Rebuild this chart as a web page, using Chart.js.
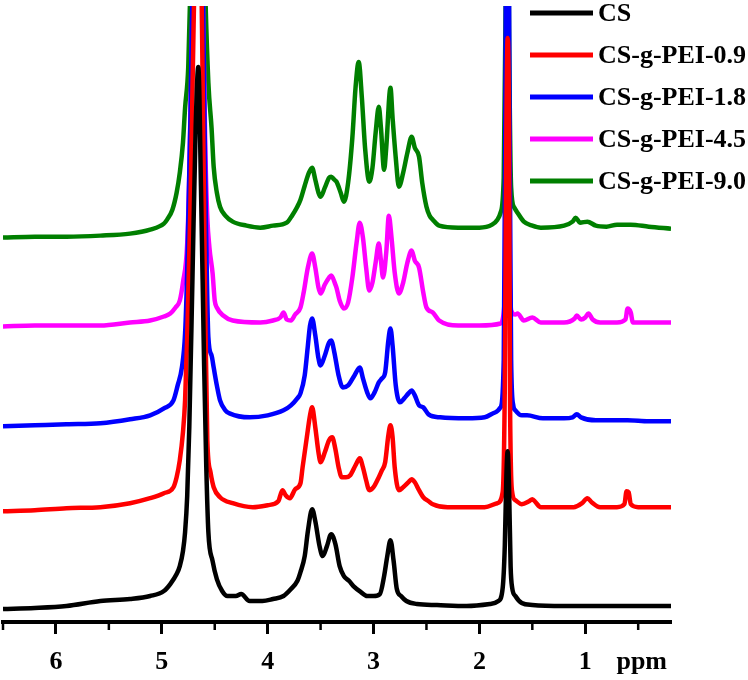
<!DOCTYPE html>
<html>
<head>
<meta charset="utf-8">
<script src="https://cdn.jsdelivr.net/npm/chart.js@4"></script>
<style>
  html, body { margin: 0; padding: 0; background: #ffffff; }
  #wrap { width: 748px; height: 680px; }
</style>
</head>
<body>
<div id="wrap"><canvas id="c" width="748" height="680"></canvas></div>
<script>
// ---- series names, colours, vertical offsets of each trace ----
const seriesNames = ['CS', 'CS-g-PEI-0.9', 'CS-g-PEI-1.8', 'CS-g-PEI-4.5', 'CS-g-PEI-9.0'];
const seriesColors = ['#000000', '#ff0000', '#0000ff', '#ff00ff', '#007f00'];
const seriesOffsets = [16, 115, 202, 300, 395];

// ---- axis ticks (ppm) ----
const majorTicks = [6, 5, 4, 3, 2, 1];
const minorTicks = [6.5, 5.5, 4.5, 3.5, 2.5, 1.5, 0.5];
const axisUnit = 'ppm';

// ---- CS ----
const ppmCS = [6.50,6.20,5.90,5.58,5.30,5.11,4.98,4.92,4.86,4.83,4.80,4.78,4.76,4.74,4.71,4.68,4.655,4.63,4.60,4.58,4.56,4.52,4.48,4.43,4.38,4.30,4.25,4.17,4.05,3.95,3.85,3.78,3.72,3.69,3.65,3.62,3.58,3.55,3.51,3.48,3.44,3.40,3.36,3.32,3.28,3.23,3.19,3.12,3.06,3.00,2.94,2.90,2.87,2.84,2.81,2.78,2.74,2.69,2.59,2.40,2.12,1.90,1.82,1.78,1.76,1.745,1.733,1.72,1.705,1.69,1.66,1.60,1.50,1.20,0.90,0.60,0.19];
const intCS = [-3,-2,0,5,7,10,15,22,32,40,55,74,110,180,330,480,540,420,240,140,74,45,27,15,10,10,12,5,5,7,10,17,25,34,50,75,97,85,60,50,60,72,62,40,30,25,20,14,10,10,12,30,50,66,45,17,10,5,2,1,0,2,5,18,60,130,155,120,40,18,10,3,1,0,0,0,0];

// ---- CS-g-PEI-0.9 ----
const ppmP09 = [6.50,6.20,5.90,5.58,5.30,5.11,4.98,4.89,4.86,4.83,4.80,4.78,4.76,4.73,4.70,4.655,4.62,4.59,4.57,4.54,4.51,4.45,4.33,4.14,4.00,3.90,3.86,3.83,3.79,3.74,3.69,3.67,3.63,3.60,3.58,3.55,3.52,3.50,3.46,3.42,3.39,3.36,3.33,3.30,3.26,3.22,3.17,3.13,3.10,3.07,3.04,3.00,2.95,2.92,2.89,2.86,2.84,2.82,2.80,2.76,2.72,2.67,2.64,2.61,2.57,2.53,2.48,2.44,2.30,2.12,1.95,1.83,1.78,1.76,1.745,1.733,1.72,1.71,1.69,1.66,1.60,1.53,1.50,1.47,1.42,1.20,1.11,1.03,0.98,0.94,0.86,0.70,0.63,0.61,0.59,0.57,0.50,0.19];
const intP09 = [-4,-3,-1,0,4,9,14,20,30,47,75,107,170,300,480,700,480,200,67,35,20,10,4,0,2,6,17,12,9,18,24,40,70,92,100,80,55,45,55,67,70,58,40,30,30,32,42,49,40,27,17,20,30,37,45,72,82,70,40,17,20,25,28,25,17,10,6,3,0,0,0,4,15,120,380,470,380,100,15,7,3,6,8,5,0,0,0,4,9,5,0,0,3,16,15,3,0,0];

// ---- CS-g-PEI-1.8 ----
const ppmP18 = [6.50,6.20,5.90,5.58,5.30,5.11,4.98,4.89,4.85,4.81,4.78,4.76,4.73,4.70,4.655,4.62,4.59,4.56,4.53,4.51,4.48,4.45,4.40,4.36,4.17,4.00,3.85,3.78,3.72,3.69,3.65,3.62,3.60,3.58,3.55,3.52,3.50,3.46,3.42,3.40,3.37,3.33,3.29,3.24,3.18,3.13,3.10,3.06,3.03,2.99,2.95,2.92,2.89,2.86,2.84,2.82,2.79,2.75,2.71,2.67,2.64,2.61,2.57,2.53,2.48,2.37,2.12,1.95,1.85,1.80,1.77,1.755,1.74,1.73,1.715,1.70,1.68,1.66,1.60,1.55,1.40,1.20,1.12,1.08,1.04,0.90,0.60,0.40,0.19];
const intP18 = [-6,-5,-4,-3,1,5,12,20,35,53,87,150,300,500,700,500,250,83,65,53,35,20,10,7,3,5,10,15,22,27,45,75,95,102,85,62,55,65,78,80,68,45,33,35,45,53,42,28,22,28,38,42,48,80,92,75,35,18,22,27,30,25,15,13,6,3,2,3,8,13,60,300,650,650,300,60,15,10,5,5,2,2,3,6,3,0,0,-1,-1];

// ---- CS-g-PEI-4.5 ----
const ppmP45 = [6.50,6.20,5.90,5.58,5.30,5.11,4.98,4.92,4.87,4.83,4.80,4.76,4.74,4.71,4.68,4.655,4.62,4.59,4.57,4.55,4.52,4.50,4.48,4.42,4.33,4.07,3.95,3.88,3.85,3.82,3.78,3.74,3.69,3.66,3.62,3.58,3.55,3.52,3.50,3.46,3.42,3.40,3.36,3.35,3.32,3.28,3.24,3.20,3.16,3.13,3.10,3.07,3.04,3.01,2.98,2.95,2.93,2.91,2.88,2.855,2.83,2.80,2.76,2.72,2.68,2.64,2.61,2.57,2.53,2.50,2.44,2.38,2.20,2.00,1.80,1.77,1.75,1.733,1.715,1.70,1.66,1.64,1.58,1.50,1.42,1.20,1.10,1.08,1.04,1.00,0.97,0.93,0.86,0.70,0.62,0.60,0.57,0.55,0.40,0.19];
const intP45 = [-4,-3,-3,-3,0,2,6,9,15,22,40,79,150,320,480,520,380,180,105,75,49,22,15,7,2,0,2,5,10,3,2,8,15,30,55,69,55,35,29,38,45,47,38,35,22,14,20,45,80,100,85,55,32,40,60,79,62,45,70,107,85,50,29,40,60,72,62,55,30,15,10,2,-3,-3,-1,10,40,60,40,12,8,9,2,5,0,0,4,7,3,5,9,3,0,0,3,14,10,0,0,0];

// ---- CS-g-PEI-9.0 ----
const ppmP90 = [6.50,6.20,5.90,5.58,5.30,5.11,4.98,4.95,4.90,4.86,4.83,4.80,4.78,4.75,4.73,4.70,4.655,4.62,4.59,4.56,4.53,4.51,4.48,4.45,4.40,4.33,4.20,4.07,3.95,3.82,3.77,3.72,3.69,3.65,3.61,3.58,3.55,3.52,3.50,3.46,3.42,3.40,3.37,3.35,3.31,3.28,3.24,3.20,3.17,3.14,3.11,3.08,3.04,3.01,2.98,2.95,2.93,2.90,2.88,2.84,2.82,2.79,2.76,2.72,2.68,2.64,2.61,2.57,2.54,2.50,2.47,2.44,2.38,2.20,2.00,1.88,1.83,1.80,1.77,1.75,1.735,1.72,1.70,1.67,1.64,1.58,1.50,1.42,1.20,1.12,1.09,1.05,0.98,0.90,0.80,0.70,0.57,0.40,0.19];
const intP90 = [-10,-9,-9,-8,-6,-2,4,8,18,35,55,85,120,161,240,400,600,400,240,145,100,61,35,21,12,6,2,0,2,5,12,21,28,42,55,60,48,35,31,40,50,51,48,46,35,26,45,90,140,166,130,80,46,60,95,121,100,58,80,140,110,70,41,55,75,91,80,71,45,21,12,8,2,0,0,3,8,15,50,250,450,200,40,20,15,6,2,0,2,6,10,5,6,2,1,3,3,1,-1];

const ppmLists = [ppmCS, ppmP09, ppmP18, ppmP45, ppmP90];
const intLists = [intCS, intP09, intP18, intP45, intP90];

const datasets = seriesNames.map((name, k) => ({
  label: name,
  data: ppmLists[k].map((p, i) => ({ x: p, y: seriesOffsets[k] + intLists[k][i] })),
  borderColor: seriesColors[k],
  backgroundColor: seriesColors[k],
  borderWidth: 4.5,
  pointRadius: 0,
  cubicInterpolationMode: 'monotone',
  fill: false
}));

const serifBold = 'bold 26px "Liberation Serif", "Times New Roman", serif';

const decorPlugin = {
  id: 'decor',
  afterDraw(chart) {
    const ctx = chart.ctx;
    const xs = chart.scales.x;
    const ca = chart.chartArea;
    ctx.save();
    // minor tick marks
    ctx.strokeStyle = '#000';
    ctx.lineWidth = 2.5;
    minorTicks.forEach(v => {
      const px = xs.getPixelForValue(v);
      ctx.beginPath();
      ctx.moveTo(px, ca.bottom);
      ctx.lineTo(px, ca.bottom + 8);
      ctx.stroke();
    });
    // unit label
    ctx.font = serifBold;
    ctx.fillStyle = '#000';
    ctx.textAlign = 'right';
    ctx.textBaseline = 'middle';
    ctx.fillText(axisUnit, ca.right - 4, ca.bottom + 40);
    // legend
    const lx0 = ca.right - 141, lx1 = ca.right - 78, tx = ca.right - 73;
    seriesNames.forEach((name, k) => {
      const y = 13 + 42 * k;
      ctx.strokeStyle = seriesColors[k];
      ctx.lineWidth = 5;
      ctx.beginPath();
      ctx.moveTo(lx0, y);
      ctx.lineTo(lx1, y);
      ctx.stroke();
      ctx.fillStyle = '#000';
      ctx.textAlign = 'left';
      ctx.textBaseline = 'middle';
      ctx.fillText(name, tx, y + 1);
    });
    ctx.restore();
  }
};

new Chart(document.getElementById('c'), {
  type: 'line',
  data: { datasets },
  options: {
    responsive: false,
    animation: false,
    events: [],
    layout: { padding: { top: 6, left: 3, right: 77, bottom: -10.4 } },
    plugins: { legend: { display: false }, tooltip: { enabled: false } },
    scales: {
      x: {
        type: 'linear',
        reverse: true,
        min: 0.19,
        max: 6.5,
        afterBuildTicks: (scale) => { scale.ticks = majorTicks.map(v => ({ value: v })); },
        grid: { drawOnChartArea: false, drawTicks: true, tickLength: 12, tickWidth: 3, tickColor: '#000' },
        border: { display: true, color: '#000', width: 4 },
        ticks: {
          color: '#000',
          font: { family: '"Liberation Serif", "Times New Roman", serif', size: 26, weight: 'bold', lineHeight: 1.4 },
          padding: 10,
          maxRotation: 0,
          autoSkip: false
        }
      },
      y: {
        type: 'linear',
        display: false,
        min: 0,
        max: 617
      }
    }
  },
  plugins: [decorPlugin]
});
</script>
</body>
</html>
